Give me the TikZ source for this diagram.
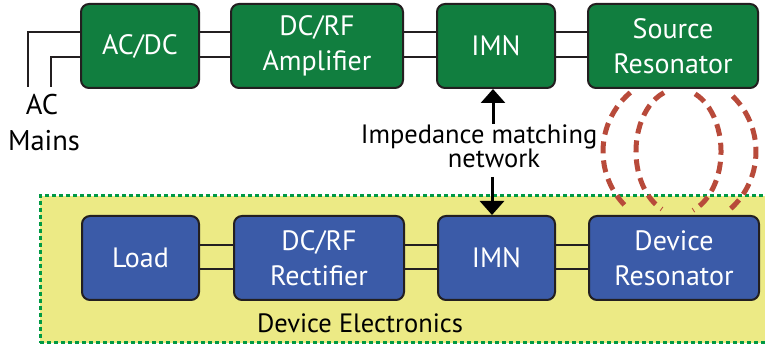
\documentclass[tikz,border=0pt]{standalone}
\usepackage{fontspec}
\setmainfont{PT Sans}
\usetikzlibrary{arrows.meta}
\definecolor{boxgreen}{HTML}{117E3F}
\definecolor{boxblue}{HTML}{3B5BA8}
\definecolor{bgyellow}{HTML}{ECEA85}
\definecolor{dotgreen}{HTML}{009944}
\definecolor{fieldred}{HTML}{B84A3A}
\definecolor{edgecol}{HTML}{231F20}
\begin{document}
\begin{tikzpicture}[x=1pt,y=1pt,
  blk/.style={draw=edgecol,line width=2pt,rounded corners=8pt,text=white,align=center,inner sep=0pt,font=\fontsize{28}{35}\selectfont},
  gblk/.style={blk,fill=boxgreen},
  bblk/.style={blk,fill=boxblue},
  wire/.style={draw=edgecol,line width=2pt},
  arr/.style={draw=black,line width=3pt,-{Triangle[width=24pt,length=14pt]}},
  lbl/.style={font=\fontsize{26.5}{30}\selectfont,inner sep=0pt,anchor=base},
  biglbl/.style={font=\fontsize{28.5}{35}\selectfont,inner sep=0pt,anchor=base},
  field/.style={draw=fieldred,line width=5pt,dash pattern=on 12pt off 7pt}]
\useasboundingbox (0,0) rectangle (765,347);
\begin{scope}
  \clip (0,0) rectangle (765,347);
  \node[draw=dotgreen,fill=bgyellow,line width=2.5pt,dash pattern=on 4pt off 3pt,
        minimum width=736,minimum height=147,inner sep=0pt,anchor=south west] (devarea) at (39,3) {};
\end{scope}
% top row
\node[gblk,minimum width=118,minimum height=84] (acdc) at (140,301) {AC/DC};
\node[gblk,minimum width=172,minimum height=84] (amp) at (317,301) {DC/RF\\Amplifier};
\node[gblk,minimum width=118,minimum height=84] (imna) at (496,301) {IMN};
\node[gblk,minimum width=170,minimum height=84] (src) at (673,301) {Source\\Resonator};
% bottom row
\node[bblk,minimum width=117,minimum height=84] (load) at (140.5,89) {Load};
\node[bblk,minimum width=170,minimum height=84] (rect) at (319,89) {DC/RF\\Rectifier};
\node[bblk,minimum width=117,minimum height=84] (imnb) at (496.5,89) {IMN};
\node[bblk,minimum width=170,minimum height=84] (devres) at (674,89) {Device\\Resonator};
% connectors
\foreach \yy in {315,290} {
  \draw[wire] (acdc.east |- 0,\yy) -- (amp.west |- 0,\yy);
  \draw[wire] (amp.east |- 0,\yy) -- (imna.west |- 0,\yy);
  \draw[wire] (imna.east |- 0,\yy) -- (src.west |- 0,\yy);
}
\foreach \yy in {102,78} {
  \draw[wire] (load.east |- 0,\yy) -- (rect.west |- 0,\yy);
  \draw[wire] (rect.east |- 0,\yy) -- (imnb.west |- 0,\yy);
  \draw[wire] (imnb.east |- 0,\yy) -- (devres.west |- 0,\yy);
}
% AC mains wires
\coordinate (wa) at (28,260);
\coordinate (wb) at (51,260);
\draw[wire] (wa) |- (acdc.west |- 0,315);
\draw[wire] (wb) |- (acdc.west |- 0,290);
\node[biglbl] (ac) at (42,232) {AC};
\node[biglbl] (mains) at (44,196) {Mains};
% impedance matching label and arrows
\node[lbl] (imp) at (479,203) {Impedance matching};
\node[lbl] (net) at (494,179) {network};
\coordinate (aa) at (493,223);
\coordinate (ab) at (492,170);
\draw[arr] (aa) -- (aa |- imna.south);
\draw[arr] (ab) -- (ab |- imnb.north);
\node[lbl] (devel) at (360,14) {Device Electronics};
% coupling field arcs
\coordinate (fo) at (679.5,195.5);
\coordinate (fi) at (678.5,195.5);
\draw[field] (fo) ++(130:76.5pt and 77pt) arc[start angle=130,end angle=229,x radius=76.5pt,y radius=77pt];
\draw[field] (fo) ++(46:76.5pt and 77pt) arc[start angle=46,end angle=-51,x radius=76.5pt,y radius=77pt];
\draw[field] (fi) ++(110:42.5pt and 62.6pt) arc[start angle=110,end angle=247,x radius=42.5pt,y radius=62.6pt];
\draw[field] (fi) ++(67:42.5pt and 62.6pt) arc[start angle=67,end angle=-70,x radius=42.5pt,y radius=62.6pt];
\end{tikzpicture}
\end{document}
